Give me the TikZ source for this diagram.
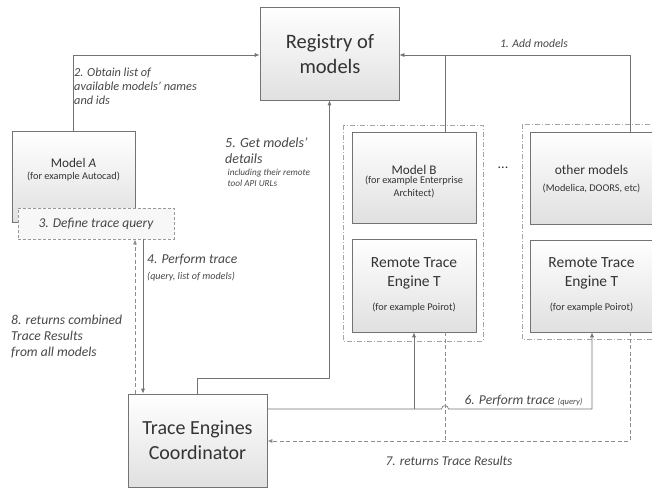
\documentclass[tikz,border=0pt]{standalone}
\usepackage{fontspec}
\setmainfont{Carlito}
\usetikzlibrary{arrows.meta,shadows}

\begin{document}
\begin{tikzpicture}[x=1pt,y=-1pt,
  box/.style={draw=black!55, line width=0.6pt, top color=white, bottom color=black!12,
    drop shadow={shadow xshift=1.2pt, shadow yshift=-1.2pt, opacity=0.35, fill=black!45},
    inner sep=0pt},
  grp/.style={draw=black!35, line width=0.8pt, dash pattern=on 5pt off 2pt on 1pt off 2pt},
  qbox/.style={draw=black!40, fill=black!3, line width=0.8pt, dash pattern=on 3pt off 2pt, inner sep=0pt},
  txt/.style={text=black!80, align=center, inner sep=0pt},
  lbl/.style={text=black!72, align=left, inner sep=0pt, font=\itshape},
  conn/.style={draw=black!55, line width=0.7pt},
  dconn/.style={draw=black!45, line width=0.8pt, dash pattern=on 4pt off 2.5pt},
  tip/.style={-{Latex[length=5pt,width=4pt]}}
]
\useasboundingbox (0,0) rectangle (652,489);
\clip (0,0) rectangle (652,489);

% groups around the remote models
\draw[grp] (343,125) rectangle (483,341);
\draw[grp] (522,124) rectangle (661,339);

% boxes
\node[box, minimum width=139pt, minimum height=93pt] (reg) at (329.5,53.5) {};
\node[box, minimum width=123pt, minimum height=91pt] (modelA) at (73.5,176.5) {};
\node[qbox, minimum width=156pt, minimum height=31pt] (query) at (96,223.5) {};
\node[box, minimum width=139pt, minimum height=93pt] (coord) at (197.5,440.5) {};
\node[box, minimum width=124pt, minimum height=91pt] (modelB) at (414,177.5) {};
\node[box, minimum width=124pt, minimum height=93pt] (rteB) at (414,285.5) {};
\node[box, minimum width=123pt, minimum height=92pt] (other) at (591.5,178) {};
\node[box, minimum width=123pt, minimum height=92pt] (rteO) at (591.5,286) {};

% box texts
\node[txt, font=\fontsize{20.5}{25}\selectfont] (regT) at (330,54.5) {Registry of\\models};
\node[txt, font=\fontsize{20}{25}\selectfont] (coordT) at (197.5,440.5) {Trace Engines\\Coordinator};
\node[txt, font=\fontsize{13.2}{15}\selectfont] (modelAT) at (73.5,163) {Model \textit{A}};
\node[txt, font=\fontsize{10.3}{12}\selectfont] (modelAS) at (73.5,176.5) {(for example Autocad)};
\node[lbl, align=center, font=\itshape\fontsize{13.5}{15}\selectfont] (queryT) at (96,224) {3. Define trace query};
\node[txt, font=\fontsize{13.2}{16}\selectfont] (modelBT) at (414,169.5) {Model B};
\node[txt, font=\fontsize{10.3}{12.5}\selectfont] (modelBS) at (414,187) {(for example Enterprise\\Architect)};
\node[txt, font=\fontsize{15.5}{19}\selectfont] (rteBT) at (414,273.5) {Remote Trace\\Engine T};
\node[txt, font=\fontsize{10.3}{12}\selectfont] (rteBS) at (414,308) {(for example Poirot)};
\node[txt, font=\fontsize{13.5}{16}\selectfont] (otherT) at (591.5,170) {other models};
\node[txt, font=\fontsize{10.3}{12}\selectfont] (otherS) at (591.5,188) {(Modelica, DOORS, etc)};
\node[txt, font=\fontsize{15.5}{19}\selectfont] (rteOT) at (591.5,273.5) {Remote Trace\\Engine T};
\node[txt, font=\fontsize{10.3}{12}\selectfont] (rteOS) at (591.5,308) {(for example Poirot)};
\node[txt, font=\fontsize{14}{16}\selectfont] (dots) at (503,168) {...};

% connectors
\draw[conn,tip] (modelA.north) -- (modelA.north |- 0,55) -- (reg.west |- 0,55);
\draw[conn,tip] (other.north -| 630,0) -- (630,55) -- (reg.east |- 0,55);
\draw[conn] (modelB.north -| 445,0) -- (445,55);
\draw[conn,tip] (coord.north) -- (coord.north |- 0,378) -- (reg.south |- 0,378) -- (reg.south);
\draw[conn,tip] (query.south -| 143,0) -- (coord.north -| 143,0);
\draw[dconn,tip] (coord.north -| 135,0) -- (query.south -| 135,0);
\draw[conn,tip] (coord.east |- 0,409) -- (441.5,409) .. controls (441.5,404.5) and (448.5,404.5) .. (448.5,409)
  -- (592,409) -- (rteO.south -| 592,0);
\draw[conn,tip] (rteB.south |- 0,409) -- (rteB.south);
\draw[dconn] (rteB.south -| 445,0) -- (445,441);
\draw[dconn,tip] (rteO.south -| 630,0) -- (630,441) -- (coord.east |- 0,441);

% connector labels
\node[lbl, anchor=west, font=\itshape\fontsize{12.3}{14}\selectfont] (l2) at (74,86) {2. Obtain list of\\available models’ names\\and ids};
\node[lbl, font=\itshape\fontsize{11.7}{13}\selectfont] (l1) at (534,43) {1. Add models};
\node[lbl, anchor=west, font=\itshape\fontsize{14}{16}\selectfont] (l5) at (225,151) {5. Get models’\\details};
\node[lbl, anchor=west, font=\itshape\fontsize{9.2}{10.5}\selectfont] (l5s) at (227.5,178) {including their remote\\tool API URLs};
\node[lbl, anchor=west, font=\itshape\fontsize{13.6}{15}\selectfont] (l4) at (147,260) {4. Perform trace};
\node[lbl, anchor=west, font=\itshape\fontsize{10.1}{12}\selectfont] (l4s) at (147,277) {(query, list of models)};
\node[lbl, anchor=west, font=\itshape\fontsize{13.6}{16}\selectfont] (l8) at (11,337) {8. returns combined\\Trace Results\\from all models};
\node[lbl, font=\itshape\fontsize{13.6}{15}\selectfont] (l6) at (523.5,401) {6. Perform trace {\fontsize{8.5}{9}\selectfont(query)}};
\node[lbl, font=\itshape\fontsize{13.4}{15}\selectfont] (l7) at (449,461) {7. returns Trace Results};
\end{tikzpicture}
\end{document}
